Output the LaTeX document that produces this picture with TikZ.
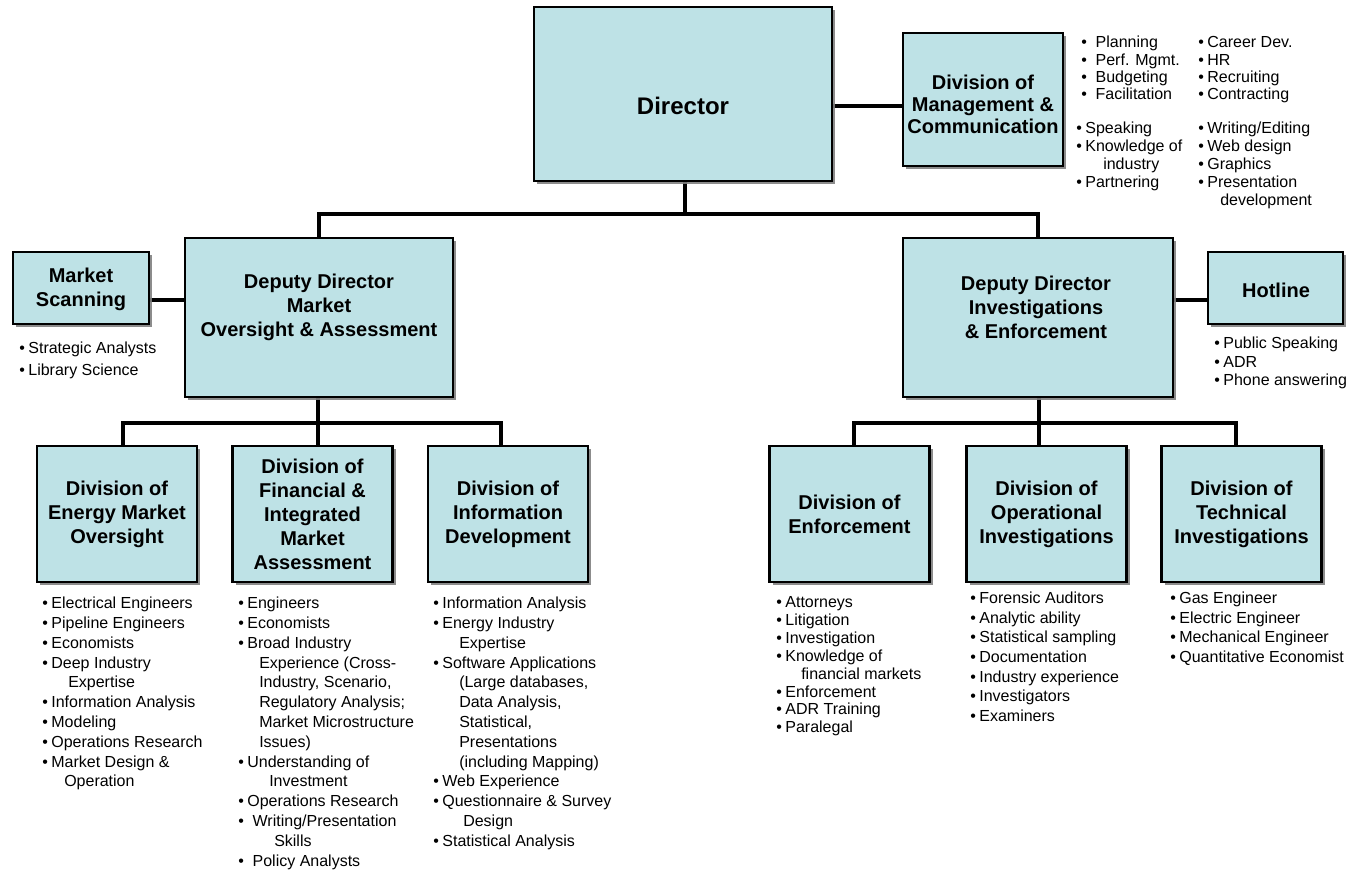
\documentclass[tikz,border=0pt]{standalone}
\usepackage{fontspec}
\setmainfont{Liberation Sans}
\usetikzlibrary{shadows}
\definecolor{boxfill}{HTML}{BEE2E6}
\pgfdeclarelayer{background}
\pgfsetlayers{background,main}
% bullet item, with a strut so that every list starts at the same height
\newcommand{\blt}{\rule{0pt}{9pt}\textbullet\hspace{0.22em}}
\newcommand{\bltw}{\rule{0pt}{9pt}\textbullet\hspace{0.55em}}
\newcommand{\indentto}[1]{\hspace*{#1}}
\begin{document}
\begin{tikzpicture}[x=0.75pt, y=-0.75pt,
  box/.style={draw=black, line width=2.2pt, fill=boxfill, inner sep=0pt,
    drop shadow={shadow xshift=2.6pt, shadow yshift=-2.6pt, fill=black!50, opacity=0.9}},
  title/.style={font=\bfseries\fontsize{15}{18}\selectfont, align=center, inner sep=0pt},
  link/.style={line width=2.6pt},
  items/.style={anchor=north west, inner sep=0pt, align=left},
  list/.style={items, font=\fontsize{12}{#1}\selectfont},
]
\useasboundingbox (0,0) rectangle (1349,870);

% ---------- boxes ----------
\node[box, minimum width=223.5pt, minimum height=130.5pt] (director) at (683,94) {};
\node[title, font=\bfseries\fontsize{18}{21}\selectfont] (director-t) at (683,106) {Director};

\node[box, minimum width=120pt, minimum height=99.75pt] (dmc) at (983,99.5) {};
\node[title, font=\bfseries\fontsize{15}{16.5}\selectfont] (dmc-t) at (983,104) {Division of\\Management \&\\Communication};

\node[box, minimum width=201pt, minimum height=119.25pt] (ddmoa) at (319,317.5) {};
\node[title] (ddmoa-t) at (319,307) {Deputy Director\\Market\\Oversight \& Assessment};

\node[box, minimum width=102pt, minimum height=54pt] (scan) at (81,288) {};
\node[title] (scan-t) at (81,289) {Market\\Scanning};

\node[box, minimum width=202.5pt, minimum height=119.25pt] (ddie) at (1038,317.5) {};
\node[title] (ddie-t) at (1036,307) {Deputy Director\\Investigations\\\& Enforcement};

\node[box, minimum width=101.25pt, minimum height=54pt] (hotline) at (1275.5,288) {};
\node[title] (hotline-t) at (1276,290) {Hotline};

\node[box, minimum width=120pt, minimum height=102pt] (energy) at (117,514) {};
\node[title] (energy-t) at (117,514) {Division of\\Energy Market\\Oversight};

\node[box, minimum width=120pt, minimum height=102pt] (financial) at (312.5,514) {};
\node[title] (financial-t) at (312.5,514) {Division of\\Financial \&\\Integrated\\Market\\Assessment};

\node[box, minimum width=120pt, minimum height=102pt] (infodev) at (508,514) {};
\node[title] (infodev-t) at (508,514) {Division of\\Information\\Development};

\node[box, minimum width=120pt, minimum height=102pt] (enforce) at (849.5,514) {};
\node[title] (enforce-t) at (849.5,514) {Division of\\Enforcement};

\node[box, minimum width=120pt, minimum height=102pt] (operational) at (1046.5,514) {};
\node[title] (operational-t) at (1046.5,514) {Division of\\Operational\\Investigations};

\node[box, minimum width=120pt, minimum height=102pt] (technical) at (1241.5,514) {};
\node[title] (technical-t) at (1241.5,514) {Division of\\Technical\\Investigations};

% ---------- connectors (behind the boxes) ----------
\coordinate (topbus) at (685,214);
\coordinate (mcline) at (0,106);
\coordinate (sideline) at (0,300);
\coordinate (lbus) at (318,423);
\coordinate (l1) at (123,423);
\coordinate (l3) at (501,423);
\coordinate (rbus) at (1039,423);
\coordinate (r1) at (854,423);
\coordinate (r3) at (1236,423);
\begin{pgfonlayer}{background}
\fill[white] (0,0) rectangle (1349,870);
\draw[link] (director.south -| topbus) -- (topbus);
\draw[link] (ddmoa.north) |- (topbus) -| (ddie.north);
\draw[link] (director.east |- mcline) -- (dmc.west |- mcline);
\draw[link] (scan.east |- sideline) -- (ddmoa.west |- sideline);
\draw[link] (ddie.east |- sideline) -- (hotline.west |- sideline);
\draw[link] (ddmoa.south -| lbus) -- (lbus);
\draw[link] (energy.north -| l1) -- (l1) -- (l3) -- (infodev.north -| l3);
\draw[link] (lbus) -- (financial.north -| lbus);
\draw[link] (ddie.south -| rbus) -- (rbus);
\draw[link] (enforce.north -| r1) -- (r1) -- (r3) -- (technical.north -| r3);
\draw[link] (rbus) -- (operational.north -| rbus);
\end{pgfonlayer}

% ---------- skill lists ----------
\node[list=13pt] (mc-a) at (1081,35.5) {\bltw Planning\\\bltw Perf. Mgmt.\\\bltw Budgeting\\\bltw Facilitation};
\node[list=13pt] (mc-b) at (1198,35.5) {\blt Career Dev.\\\blt HR\\\blt Recruiting\\\blt Contracting};
\node[list=13.5pt] (mc-c) at (1076,121.5) {\blt Speaking\\\blt Knowledge of\\\indentto{20.25pt}industry\\\blt Partnering};
\node[list=13.5pt] (mc-d) at (1198,121.5) {\blt Writing/Editing\\\blt Web design\\\blt Graphics\\\blt Presentation\\\indentto{16.5pt}development};

\node[list=16.1pt] (scan-list) at (19,341.5) {\blt Strategic Analysts\\\blt Library Science};
\node[list=13.9pt] (hot-list) at (1214,336.5) {\blt Public Speaking\\\blt ADR\\\blt Phone answering};

\node[list=14.85pt] (energy-list) at (42,596.5) {\blt Electrical Engineers\\\blt Pipeline Engineers\\\blt Economists\\\blt Deep Industry\\\indentto{19.5pt}Expertise\\\blt Information Analysis\\\blt Modeling\\\blt Operations Research\\\blt Market Design \&\\\indentto{16.5pt}Operation};

\node[list=14.85pt] (financial-list) at (238,596.5) {\blt Engineers\\\blt Economists\\\blt Broad Industry\\\indentto{15.75pt}Experience (Cross-\\\indentto{15.75pt}Industry, Scenario,\\\indentto{15.75pt}Regulatory Analysis;\\\indentto{15.75pt}Market Microstructure\\\indentto{15.75pt}Issues)\\\blt Understanding of\\\indentto{23.25pt}Investment\\\blt Operations Research\\\bltw Writing/Presentation\\\indentto{27pt}Skills\\\bltw Policy Analysts};

\node[list=14.85pt] (infodev-list) at (433,596.5) {\blt Information Analysis\\\blt Energy Industry\\\indentto{19.5pt}Expertise\\\blt Software Applications\\\indentto{19.5pt}(Large databases,\\\indentto{19.5pt}Data Analysis,\\\indentto{19.5pt}Statistical,\\\indentto{19.5pt}Presentations\\\indentto{19.5pt}(including Mapping)\\\blt Web Experience\\\blt Questionnaire \& Survey\\\indentto{22.5pt}Design\\\blt Statistical Analysis};

\node[list=13.4pt] (enforce-list) at (776,595.5) {\blt Attorneys\\\blt Litigation\\\blt Investigation\\\blt Knowledge of\\\indentto{18.75pt}financial markets\\\blt Enforcement\\\blt ADR Training\\\blt Paralegal};

\node[list=14.7pt] (operational-list) at (970,591.5) {\blt Forensic Auditors\\\blt Analytic ability\\\blt Statistical sampling\\\blt Documentation\\\blt Industry experience\\\blt Investigators\\\blt Examiners};

\node[list=14.7pt] (technical-list) at (1170,591.5) {\blt Gas Engineer\\\blt Electric Engineer\\\blt Mechanical Engineer\\\blt Quantitative Economist};
\end{tikzpicture}
\end{document}
